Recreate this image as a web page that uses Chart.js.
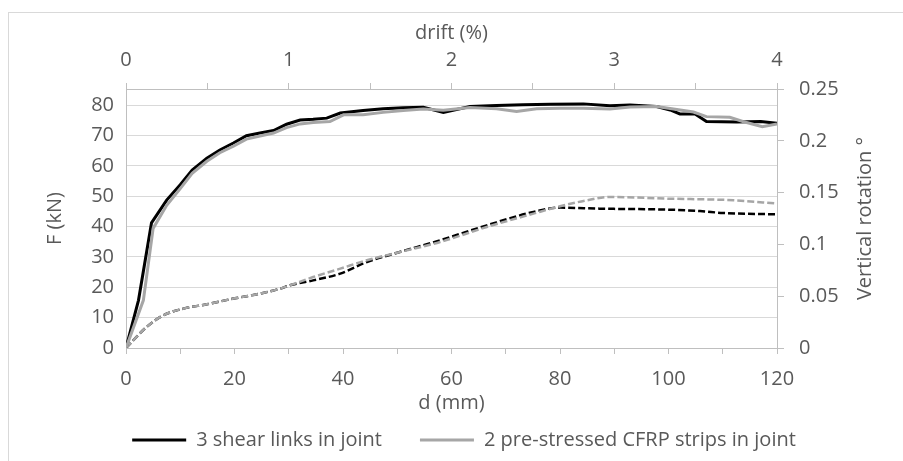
<!DOCTYPE html>
<html>
<head>
<meta charset="utf-8">
<script src="https://cdn.jsdelivr.net/npm/chart.js@4.4.1/dist/chart.umd.min.js"></script>
<style>
  html, body { margin: 0; padding: 0; background: #fff; }
  #wrap { width: 903px; height: 461px; position: relative; }
</style>
</head>
<body>
<div id="wrap"><canvas id="chart"></canvas></div>
<script>
// load (kN) against displacement d (mm)
const shearD = [0, 2.3, 4.7, 7.5, 10, 12.2, 14.9, 17.3, 19.8, 22.2, 24.7, 27.2, 29.6, 32.1, 34.5, 37, 39.5, 43.7, 47.4, 51.1, 54.8, 58.5, 63.4, 68.3, 73.2, 78.2, 84.3, 89.2, 92.9, 97.8, 100.3, 102.1, 104.9, 107, 112.6, 117, 120];
const shearF = [0, 15.7, 41.2, 48.7, 53.8, 58.6, 62.5, 65.2, 67.5, 69.9, 70.8, 71.6, 73.7, 75.1, 75.3, 75.7, 77.4, 78.2, 78.8, 79.1, 79.3, 77.6, 79.5, 79.9, 80.1, 80.3, 80.4, 79.8, 80.0, 79.5, 78.4, 77.1, 77.1, 74.6, 74.4, 74.6, 74.0];
const cfrpD = [0, 3.2, 5.0, 7.5, 10, 12.2, 14.9, 17.3, 19.8, 22.2, 24.7, 27.2, 29.6, 32.1, 34.5, 37.6, 40.1, 43.7, 47.4, 51.1, 54.8, 58.5, 63.4, 68.3, 72, 75.7, 80, 84.3, 89.2, 92.9, 97.8, 100.3, 104.6, 107, 111.3, 113.7, 117.3, 120];
const cfrpF = [0, 15.7, 39.4, 47.0, 52.5, 57.5, 61.5, 64.3, 66.5, 68.8, 69.8, 70.8, 72.6, 73.8, 74.3, 74.6, 76.8, 76.8, 77.6, 78.2, 78.7, 78.3, 79.2, 78.8, 77.9, 78.8, 79.0, 79.0, 78.7, 79.4, 79.5, 78.9, 77.7, 76.2, 76.0, 74.6, 72.9, 73.8];

// vertical rotation (deg) against d (mm)
const shearRotD = [0, 3.8, 6.9, 10.6, 14.9, 19.8, 24.7, 28.4, 30.2, 34.5, 39.5, 44.4, 50, 57.9, 66.5, 75.1, 80, 87.4, 99.6, 105.8, 110.1, 120];
const shearRot = [0, 0.0203, 0.0316, 0.038, 0.0422, 0.0477, 0.0525, 0.0573, 0.0605, 0.0653, 0.0718, 0.083, 0.092, 0.104, 0.1184, 0.1313, 0.1355, 0.1345, 0.1336, 0.1322, 0.1303, 0.129];
const cfrpRotD = [0, 3.8, 6.9, 10.6, 14.9, 19.8, 24.7, 28.4, 30.2, 34.5, 39.5, 44.4, 50, 57.9, 66.5, 75.1, 80, 85, 89.2, 99.6, 112, 120];
const cfrpRot = [0, 0.0203, 0.0316, 0.038, 0.0422, 0.0477, 0.0525, 0.0573, 0.0605, 0.0685, 0.0766, 0.0847, 0.092, 0.1023, 0.1168, 0.1297, 0.1368, 0.1426, 0.1458, 0.1442, 0.1426, 0.1394];

const seriesNames = ['3 shear links in joint', '2 pre-stressed CFRP strips in joint'];

const pts = (xs, ys) => xs.map((x, i) => ({ x, y: ys[i] }));

const FONT = { family: "'Open Sans', sans-serif", size: 20 };
const TEXT = '#595959';
const AXIS = '#bfbfbf';
const GRID = '#d9d9d9';

// light frame round the whole chart, as in the exported picture
const frame = {
  id: 'frame',
  beforeDraw(chart) {
    const ctx = chart.ctx;
    ctx.save();
    ctx.fillStyle = '#fff';
    ctx.fillRect(0, 0, chart.width, chart.height);
    ctx.strokeStyle = GRID;
    ctx.lineWidth = 1;
    ctx.strokeRect(8.5, 12.5, chart.width + 20, chart.height + 20);
    ctx.restore();
  }
};

// right axis title reads bottom-to-top, Chart.js would turn it the other way
const rightTitle = {
  id: 'rightTitle',
  afterDraw(chart) {
    const { ctx, chartArea } = chart;
    const s = chart.scales.y2;
    ctx.save();
    ctx.translate(s.right - 38, (chartArea.top + chartArea.bottom) / 2);
    ctx.rotate(-Math.PI / 2);
    ctx.font = `${FONT.size}px ${FONT.family}`;
    ctx.fillStyle = TEXT;
    ctx.textAlign = 'center';
    ctx.textBaseline = 'middle';
    ctx.fillText('Vertical rotation °', 0, 0);
    ctx.restore();
  }
};

new Chart(document.getElementById('chart'), {
  type: 'line',
  data: {
    datasets: [
      {
        label: seriesNames[0],
        data: pts(shearD, shearF),
        xAxisID: 'x', yAxisID: 'y',
        borderColor: '#000', backgroundColor: '#000',
        borderWidth: 3, pointRadius: 0, tension: 0, order: 1
      },
      {
        label: seriesNames[1],
        data: pts(cfrpD, cfrpF),
        xAxisID: 'x', yAxisID: 'y',
        borderColor: '#a6a6a6', backgroundColor: '#a6a6a6',
        borderWidth: 3, pointRadius: 0, tension: 0, order: 0
      },
      {
        label: 'rotation shear',
        data: pts(shearRotD, shearRot),
        xAxisID: 'x', yAxisID: 'y2',
        borderColor: '#000', borderWidth: 2.5, borderDash: [7, 3],
        pointRadius: 0, cubicInterpolationMode: 'monotone', order: 3
      },
      {
        label: 'rotation cfrp',
        data: pts(cfrpRotD, cfrpRot),
        xAxisID: 'x', yAxisID: 'y2',
        borderColor: '#a6a6a6', borderWidth: 2.5, borderDash: [7, 3],
        pointRadius: 0, cubicInterpolationMode: 'monotone', order: 2
      }
    ]
  },
  options: {
    responsive: true,
    maintainAspectRatio: false,
    animation: false,
    devicePixelRatio: 1,
    layout: { padding: { left: 25, right: 0, top: 0, bottom: 1 } },
    plugins: {
      tooltip: { enabled: false },
      legend: {
        position: 'bottom',
        labels: {
          filter: item => item.datasetIndex < 2,
          sort: (a, b) => a.datasetIndex - b.datasetIndex,
          font: FONT,
          color: TEXT,
          usePointStyle: true,
          pointStyle: 'line',
          pointStyleWidth: 54,
          padding: 38
        }
      }
    },
    scales: {
      x: {
        type: 'linear',
        position: 'bottom',
        min: 0, max: 120,
        afterFit: s => { s.height = 44; },
        ticks: {
          stepSize: 10, autoSkip: false, maxRotation: 0,
          font: FONT, color: TEXT, padding: 13,
          callback: v => (v % 20 === 0 ? String(v) : '')
        },
        grid: { drawOnChartArea: false, tickLength: 6, color: AXIS },
        border: { color: AXIS },
        title: { display: true, text: 'd (mm)', font: FONT, color: TEXT, padding: { top: 0, bottom: -23 } }
      },
      x2: {
        type: 'linear',
        position: 'top',
        min: 0, max: 4,
        afterFit: s => { s.height = 89; },
        ticks: {
          stepSize: 0.5, autoSkip: false, maxRotation: 0,
          font: FONT, color: TEXT, padding: 11,
          callback: v => (Number.isInteger(v) ? String(v) : '')
        },
        grid: { drawOnChartArea: false, tickLength: 6, color: AXIS },
        border: { color: AXIS },
        title: { display: true, text: 'drift (%)', font: FONT, color: TEXT, padding: { top: 21, bottom: 0 } }
      },
      y: {
        type: 'linear',
        position: 'left',
        min: 0, max: 85.3,
        afterFit: s => { s.width = 101; },
        ticks: { stepSize: 10, autoSkip: false, includeBounds: false, font: FONT, color: TEXT, padding: 12 },
        grid: { color: GRID, drawTicks: false },
        border: { color: AXIS },
        title: { display: true, text: 'F (kN)', font: FONT, color: TEXT, padding: { top: 18, bottom: 0 } }
      },
      y2: {
        type: 'linear',
        position: 'right',
        min: 0, max: 0.25,
        afterFit: s => { s.width = 126; },
        ticks: {
          stepSize: 0.05, autoSkip: false, font: FONT, color: TEXT, padding: 15,
          callback: v => String(+v.toFixed(2))
        },
        grid: { drawOnChartArea: false, tickLength: 7, color: AXIS },
        border: { color: AXIS }
      }
    }
  },
  plugins: [frame, rightTitle]
});
</script>
</body>
</html>
